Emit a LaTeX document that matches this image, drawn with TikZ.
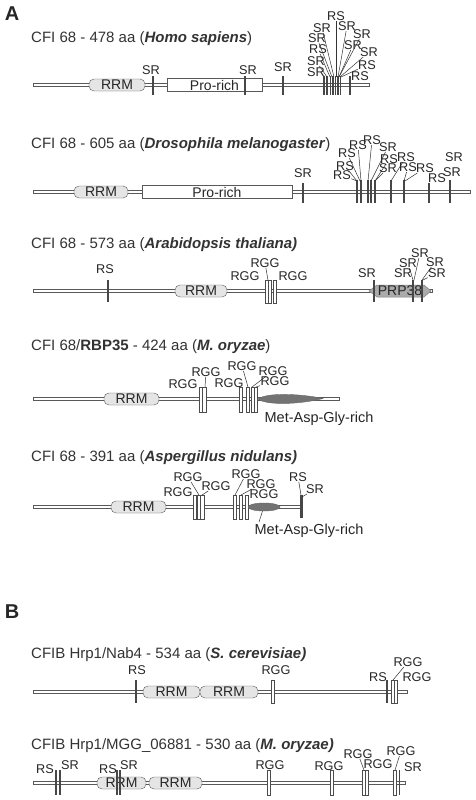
\documentclass[tikz,border=0pt]{standalone}
\usepackage{fontspec}
\setmainfont{Liberation Sans}
\usetikzlibrary{shapes.geometric}
\tikzset{
 bbone/.style={draw=black!65, fill=white, line width=0.5pt},
 rrm/.style={draw=black!65, fill=black!10, rounded corners=5pt, minimum height=12pt, inner sep=0pt, font=\fontsize{14}{16}\selectfont, text=black!85},
 prorich/.style={draw=black!65, fill=white, minimum height=13pt, inner sep=0pt, font=\fontsize{14}{16}\selectfont, text=black!85},
 tk/.style={draw=black!72, line width=1.3pt},
 tkb/.style={draw=black!72, line width=1.7pt},
 tkd/.style={draw=black!72, line width=2.2pt},
 tkc/.style={draw=black!72, line width=2.5pt},
 rggb/.style={draw=black!70, fill=white, line width=0.5pt},
 lbl/.style={inner sep=0.3pt, font=\fontsize{12.7}{14}\selectfont, text=black!85},
 mtxt/.style={inner sep=0.3pt, font=\fontsize{14.5}{16}\selectfont, text=black!85},
 ttl/.style={anchor=west, inner sep=0pt, font=\fontsize{15}{17}\selectfont, text=black!80},
 panel/.style={inner sep=0pt, font=\bfseries\fontsize{20}{22}\selectfont, text=black!85},
 leader/.style={draw=black!80, line width=0.5pt},
 mag/.style={draw=black!60, fill=black!55, line width=0.4pt},
 prp/.style={draw=black!50, fill=black!33, line width=0.5pt},
}
\newcommand\mytk[4][tk]{\draw[#1] (#2,#3) -- (#2,#4);}
\newcommand\mybox[3]{\draw[rggb] ({#1-1.7},#2) rectangle ({#1+1.7},#3);}
\newcommand\mylab[4]{\node[lbl] (#1) at (#2,#3) {#4};}
\newcommand\myld[3]{\coordinate (#1t) at (#2,#3); \draw[leader] (#1) -- (#1t);}
\newcommand\mybb[3]{\draw[bbone] (#1,{#3-1.7}) rectangle (#2,{#3+1.7});}
\begin{document}
\begin{tikzpicture}[x=1pt,y=-1pt]
\useasboundingbox (0,0) rectangle (475,800);
\fill[white] (0,0) rectangle (475,800);
\node[panel] (A) at (12,14) {A};
\node[panel] (B) at (12,612) {B};

% ---------- Homo sapiens ----------
\node[ttl] (t1) at (31,39) {CFI 68 - 478 aa (\textbf{\textit{Homo sapiens}})};
\mybb{33}{369}{85}
\node[rrm, minimum width=56pt] (h_rrm) at (117,85) {RRM};
\node[prorich, minimum width=95pt] (h_pro) at (214.5,85) {Pro-rich};
\mytk{153}{76}{95} \mytk{245}{76}{95} \mytk{283}{76}{95}
\foreach \x in {324,327,330.5,333,335.5,338,340.5} {\mytk[tkb]{\x}{76}{95}}
\mytk{350}{76}{95}
\mylab{h1}{151}{70}{SR}
\mylab{h2}{248}{70}{SR}
\mylab{h3}{283}{67}{SR}
\mylab{hc1}{316}{72}{SR} \myld{hc1}{324}{77}
\mylab{hc2}{316}{61}{SR} \myld{hc2}{327}{77}
\mylab{hc3}{318}{49}{RS} \myld{hc3}{330}{77}
\mylab{hc4}{317}{38}{SR} \myld{hc4}{332}{77}
\mylab{hc5}{322}{28}{SR} \myld{hc5}{334}{77}
\mylab{hc6}{336}{16}{RS} \myld{hc6}{336}{77}
\mylab{hc7}{347}{26}{SR} \myld{hc7}{338}{77}
\mylab{hc8}{362}{34}{SR} \myld{hc8}{339}{77}
\mylab{hc9}{353}{45}{SR} \myld{hc9}{339}{77}
\mylab{hc10}{369}{52}{SR} \myld{hc10}{340}{77}
\mylab{hc11}{367}{65}{RS} \myld{hc11}{341}{77}
\mylab{hc12}{360}{76}{RS}

% ---------- Drosophila ----------
\node[ttl] (t2) at (31,145) {CFI 68 - 605 aa (\textbf{\textit{Drosophila melanogaster}})};
\mybb{33}{470}{192}
\node[rrm, minimum width=54pt] (d_rrm) at (101,192) {RRM};
\node[prorich, minimum width=150pt] (d_pro) at (217,192) {Pro-rich};
\mytk{303}{183}{203}
\foreach \x in {357,360.6,368,371.2,375} {\mytk[tkd]{\x}{180}{203}}
\foreach \x in {391,404,450} {\mytk[tkc]{\x}{180}{203}}
\mytk{429}{183}{203}
\mylab{d0}{303}{173}{SR}
\mylab{d1}{342}{175}{RS} \myld{d1}{357}{181}
\mylab{d2}{345}{166}{RS} \myld{d2}{357}{181}
\mylab{d3}{347}{153}{RS} \myld{d3}{360}{181}
\mylab{d4}{358}{145}{RS} \myld{d4}{361}{181}
\mylab{d5}{372}{140}{RS} \myld{d5}{368}{181}
\mylab{d6}{388}{147}{SR} \myld{d6}{371}{181}
\mylab{d7}{389}{159}{RS} \myld{d7}{375}{181}
\mylab{d8}{388}{168}{SR} \myld{d8}{375}{181}
\mylab{d9}{406}{157}{RS} \myld{d9}{391}{181}
\mylab{d10}{408}{167}{RS} \myld{d10}{404}{181}
\mylab{d11}{425}{168}{RS} \myld{d11}{405}{181}
\mylab{d12}{437}{178}{RS}
\mylab{d13}{452}{172}{SR}
\mylab{d14}{454}{157}{SR}

% ---------- Arabidopsis ----------
\node[ttl] (t3) at (31,245) {CFI 68 - 573 aa (\textbf{\textit{Arabidopsis thaliana)}}};
\mybb{33}{432}{291}
\node[rrm, minimum width=52pt] (a_rrm) at (201,291) {RRM};
\mybox{266.5}{280}{303} \mybox{270}{280}{303} \mybox{274.5}{280}{303}
\mytk{108}{280}{302}
\filldraw[prp] (369,291) -- (377,285) -- (424,285) -- (431,291) -- (424,297) -- (377,297) -- cycle;
\node[inner sep=0pt, font=\fontsize{14}{16}\selectfont, text=black!85] (prp38) at (400,291) {PRP38};
\mytk{374}{280}{302}
\mytk[tkc]{413}{280}{302} \mytk[tkc]{422}{280}{302}
\mylab{b1}{105}{269}{RS}
\mylab{b2}{245}{276}{RGG}
\mylab{b3}{265}{263}{RGG} \myld{b3}{268}{280}
\mylab{b4}{293}{276}{RGG}
\mylab{b5}{367}{273}{SR}
\mylab{b6}{403}{273}{SR}
\mylab{b7}{408}{263}{SR} \myld{b7}{413}{280}
\mylab{b8}{420}{253}{SR} \myld{b8}{414}{280}
\mylab{b9}{435}{262}{SR} \myld{b9}{422}{280}
\mylab{b10}{437}{273}{SR} \myld{b10}{423}{280}

% ---------- M. oryzae RBP35 ----------
\node[ttl] (t4) at (31,347) {CFI 68/\textbf{RBP35} - 424 aa (\textbf{\textit{M. oryzae}})};
\mybb{33}{339}{399}
\node[rrm, minimum width=55pt] (m_rrm) at (131.5,399) {RRM};
\foreach \x in {201,204.4,241,248,252.5,255.8} {\mybox{\x}{387}{412}}
\filldraw[mag] (258,399) .. controls (266,392.5) and (300,393.5) .. (323,398.5) .. controls (300,404.5) and (266,405.5) .. (258,399) -- cycle;
\mylab{m1}{183}{384}{RGG}
\mylab{m2}{206}{372}{RGG} \myld{m2}{205}{387}
\mylab{m3}{229}{383}{RGG}
\mylab{m4}{242}{366}{RGG} \myld{m4}{248}{387}
\mylab{m5}{273}{371}{RGG} \myld{m5}{252}{387}
\mylab{m6}{275}{381}{RGG} \myld{m6}{256}{387}
\node[mtxt] (m7) at (319,419) {Met-Asp-Gly-rich};

% ---------- Aspergillus ----------
\node[ttl] (t5) at (31,458) {CFI 68 - 391 aa (\textbf{\textit{Aspergillus nidulans)}}};
\mybb{33}{302}{507}
\node[rrm, minimum width=55pt] (p_rrm) at (138.5,507) {RRM};
\foreach \x in {195,198.6,202.2,235,241,246.5} {\mybox{\x}{495}{519}}
\node[ellipse, mag, minimum width=32pt, minimum height=8pt, inner sep=0pt] (aell) at (264,507) {};
\mytk[tkc]{301.5}{495}{518}
\mylab{a1}{178}{492}{RGG}
\mylab{a2}{188}{477}{RGG} \myld{a2}{199}{495}
\mylab{a3}{216}{486}{RGG} \myld{a3}{202}{495}
\mylab{a4}{246}{474}{RGG} \myld{a4}{235}{495}
\mylab{a5}{261}{484}{RGG} \myld{a5}{241}{495}
\mylab{a6}{264}{494}{RGG}
\mylab{a7}{298}{477}{RS} \myld{a7}{301}{495}
\mylab{a8}{315}{489}{SR} \myld{a8}{302}{497}
\node[mtxt] (a9) at (309,531) {Met-Asp-Gly-rich};
\coordinate (a9t) at (259,522);
\draw[leader] (aell.250) -- (a9t);

% ---------- S. cerevisiae ----------
\node[ttl] (t6) at (31,655) {CFIB Hrp1/Nab4 - 534 aa (\textbf{\textit{S. cerevisiae)}}};
\mybb{33}{407}{692}
\node[rrm, minimum width=57pt] (s_rrm1) at (171.5,692) {RRM};
\node[rrm, minimum width=58pt] (s_rrm2) at (229,692) {RRM};
\mytk{136}{680}{703}
\mybox{273}{680}{703}
\mytk[tkb]{387}{680}{703}
\mybox{392.5}{680}{703} \mybox{396}{680}{703}
\mylab{s1}{137}{670}{RS}
\mylab{s2}{276}{670}{RGG}
\mylab{s3}{378}{677}{RS}
\mylab{s4}{408}{662}{RGG} \myld{s4}{393}{680}
\mylab{s5}{417}{677}{RGG}

% ---------- M. oryzae Hrp1 ----------
\node[ttl] (t7) at (31,746) {CFIB Hrp1/MGG\_06881 - 530 aa (\textbf{\textit{M. oryzae)}}};
\mybb{33}{405}{783}
\node[rrm, minimum width=49pt] (r_rrm1) at (121.5,783) {RRM};
\node[rrm, minimum width=53pt] (r_rrm2) at (175.5,783) {RRM};
\mytk{56}{770}{795} \mytk{60}{770}{795}
\mytk[tkb]{117}{770}{795} \mytk[tkb]{119.8}{770}{795}
\foreach \x in {268.5,331.5,363.5,366.8,394.5} {\mybox{\x}{770}{795}}
\mytk{399.5}{770}{795}
\mylab{r1}{45}{769}{RS}
\mylab{r2}{70}{765}{SR}
\mylab{r3}{108}{769}{RS}
\mylab{r4}{129}{765}{SR}
\mylab{r5}{270}{765}{RGG}
\mylab{r6}{329}{766}{RGG}
\mylab{r7}{358}{754}{RGG} \myld{r7}{364}{770}
\mylab{r8}{378}{764}{RGG}
\mylab{r9}{401}{751}{RGG} \myld{r9}{395}{770}
\mylab{r10}{413}{767}{SR}
\end{tikzpicture}
\end{document}
